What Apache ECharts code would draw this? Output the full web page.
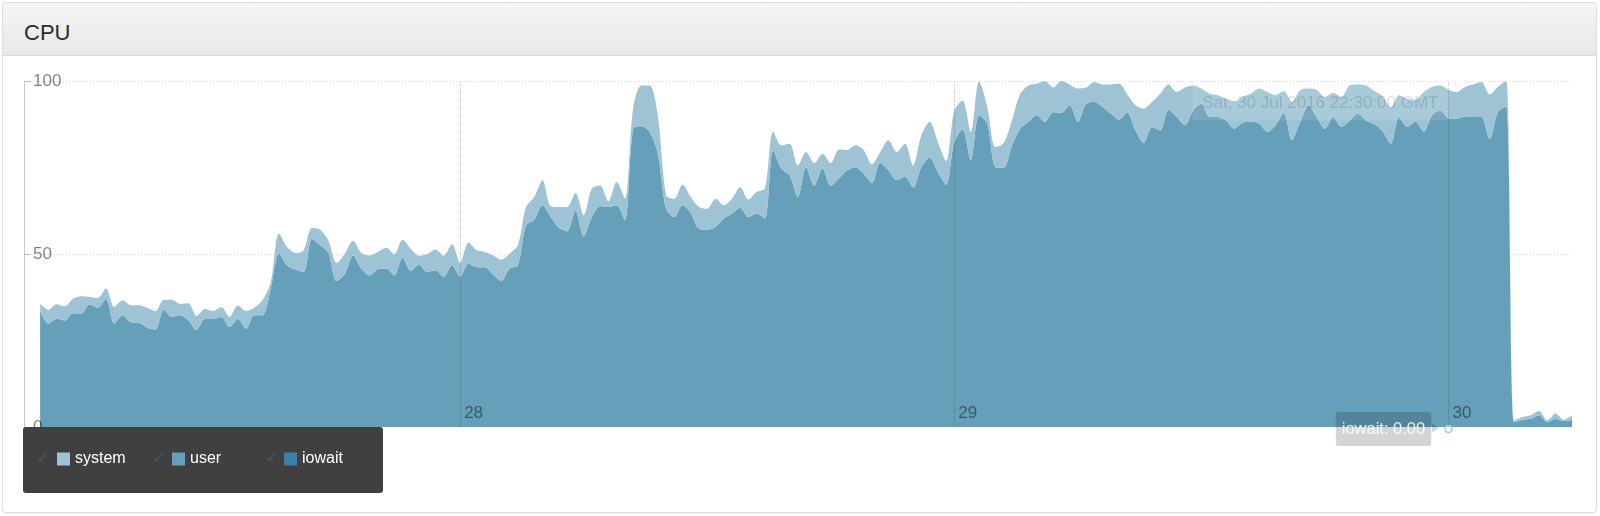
<!DOCTYPE html>
<html>
<head>
<meta charset="utf-8">
<title>CPU</title>
<script src="https://cdn.jsdelivr.net/npm/echarts@6.0.0/dist/echarts.min.js"></script>
<style>
  html, body { margin: 0; padding: 0; background: #fff; }
  body { width: 1600px; height: 516px; position: relative; overflow: hidden; font-family: "Liberation Sans", Arial, sans-serif; }
  .panel {
    position: absolute; left: 2px; top: 2px; width: 1595px; height: 511px;
    box-sizing: border-box; border: 1px solid #dcdcdc; border-radius: 4px;
    box-shadow: 0 1px 1px rgba(0,0,0,0.05);
  }
  .panel-heading {
    height: 53px; box-sizing: border-box; border-bottom: 1px solid #dadada;
    border-radius: 3px 3px 0 0;
    background: linear-gradient(#f5f5f5, #e8e8e8);
  }
  .panel-title {
    position: absolute; left: 21px; top: 19px; font-size: 22px; line-height: 22px; color: #2b2b2b;
  }
  #cpu-chart { position: absolute; left: 0; top: 0; width: 1600px; height: 516px; }
</style>
</head>
<body>
<div class="panel"><div class="panel-heading"><span class="panel-title">CPU</span></div></div>
<div id="cpu-chart"></div>
<script>
// samples every 24 minutes, starting 27 Jul 03:36
const startTime = Date.UTC(2016, 6, 27, 3, 36);
const stepMs = 24 * 60 * 1000;

const userValues = [
  33.7, 29.9, 31.3, 30.8, 32.9, 32.8, 35.5, 34.5, 37.0, 29.9,
  32.3, 30.3, 30.1, 28.7, 28.2, 33.9, 31.8, 32.3, 30.8, 28.1,
  31.2, 31.2, 31.8, 28.9, 31.2, 28.4, 32.3, 32.3, 40.0, 50.1,
  46.7, 45.5, 44.8, 54.4, 52.5, 50.3, 42.2, 44.3, 49.6, 45.8,
  43.8, 45.6, 45.8, 43.8, 48.9, 45.1, 47.0, 44.8, 45.3, 43.4,
  46.7, 43.5, 47.2, 46.2, 46.2, 44.1, 42.2, 45.8, 46.7, 58.3,
  59.9, 64.1, 60.7, 57.6, 56.6, 62.6, 55.1, 60.7, 63.8, 63.6,
  64.1, 59.7, 86.2, 86.9, 85.3, 79.0, 63.1, 60.7, 64.1, 61.8,
  57.3, 57.0, 57.8, 60.2, 61.7, 63.4, 60.7, 61.7, 60.2, 80.0,
  74.7, 72.7, 66.5, 75.1, 69.8, 74.7, 69.7, 71.8, 74.2, 75.0,
  73.2, 70.5, 76.3, 74.2, 71.3, 72.3, 69.2, 75.1, 77.8, 73.7,
  70.0, 82.4, 86.0, 77.1, 90.1, 87.7, 75.1, 74.9, 81.4, 86.2,
  88.2, 90.1, 88.2, 91.0, 90.8, 93.0, 88.2, 93.4, 93.9, 92.5,
  90.6, 88.8, 90.8, 85.7, 82.1, 86.7, 85.7, 91.7, 89.6, 87.2,
  91.5, 93.4, 89.6, 89.6, 88.6, 86.2, 87.9, 88.2, 87.7, 85.3,
  87.2, 91.0, 82.9, 88.2, 93.0, 89.6, 86.2, 89.6, 86.7, 88.6,
  90.6, 88.6, 87.5, 85.5, 81.9, 89.6, 86.7, 88.2, 85.3, 90.1,
  91.5, 89.3, 89.1, 89.8, 89.6, 89.6, 83.3, 91.0, 92.7, 1.4,
  2.1, 2.4, 3.4, 1.4, 2.4, 1.7, 2.1
];

const systemValues = [
  1.9, 4.0, 4.2, 4.1, 4.2, 5.0, 2.1, 2.8, 3.0, 4.8,
  4.3, 4.9, 5.1, 5.8, 5.3, 2.9, 5.0, 3.3, 5.0, 4.0,
  2.9, 2.3, 2.9, 2.9, 3.9, 5.1, 2.2, 4.3, 1.8, 5.8,
  5.3, 4.8, 6.3, 3.1, 4.5, 3.6, 5.2, 5.8, 4.2, 4.5,
  5.8, 5.0, 6.0, 6.1, 5.2, 6.4, 2.5, 5.1, 6.0, 6.1,
  6.1, 3.9, 6.1, 4.9, 4.4, 5.5, 6.2, 4.3, 5.8, 5.3,
  6.6, 7.2, 3.1, 6.0, 7.0, 5.0, 6.1, 8.2, 6.0, 1.6,
  6.7, 6.3, 5.8, 11.8, 13.4, 11.1, 3.9, 5.3, 6.0, 4.7,
  6.3, 6.1, 8.2, 3.9, 4.3, 6.0, 5.0, 6.2, 8.7, 5.3,
  6.7, 9.2, 9.1, 4.4, 6.5, 4.3, 6.6, 8.4, 5.8, 6.4,
  6.8, 5.4, 3.2, 8.7, 8.2, 9.6, 6.4, 9.2, 10.4, 8.7,
  6.9, 9.1, 8.4, 8.2, 9.9, 4.8, 5.8, 7.2, 7.2, 10.1,
  10.5, 9.1, 11.8, 7.1, 9.2, 6.0, 9.6, 4.7, 5.8, 6.5,
  8.4, 10.4, 5.3, 7.3, 9.9, 7.2, 10.6, 7.3, 7.2, 10.9,
  7.2, 4.4, 6.7, 6.3, 6.3, 8.0, 7.5, 8.1, 10.1, 11.5,
  8.7, 6.1, 11.0, 9.1, 4.8, 7.9, 9.2, 6.9, 8.7, 10.1,
  8.4, 10.1, 9.6, 10.1, 10.4, 6.3, 8.2, 6.4, 11.5, 8.2,
  7.2, 8.2, 7.7, 8.5, 9.4, 10.1, 12.8, 7.3, 7.3, 0.5,
  0.8, 1.0, 1.2, 0.5, 1.5, 0.4, 1.3
];

const iowaitValues = [
  0, 0, 0, 0, 0, 0, 0, 0, 0, 0, 0, 0, 0, 0, 0, 0, 0, 0, 0, 0,
  0, 0, 0, 0, 0, 0, 0, 0, 0, 0, 0, 0, 0, 0, 0, 0, 0, 0, 0, 0,
  0, 0, 0, 0, 0, 0, 0, 0, 0, 0, 0, 0, 0, 0, 0, 0, 0, 0, 0, 0,
  0, 0, 0, 0, 0, 0, 0, 0, 0, 0, 0, 0, 0, 0, 0, 0, 0, 0, 0, 0,
  0, 0, 0, 0, 0, 0, 0, 0, 0, 0, 0, 0, 0, 0, 0, 0, 0, 0, 0, 0,
  0, 0, 0, 0, 0, 0, 0, 0, 0, 0, 0, 0, 0, 0, 0, 0, 0, 0, 0, 0,
  0, 0, 0, 0, 0, 0, 0, 0, 0, 0, 0, 0, 0, 0, 0, 0, 0, 0, 0, 0,
  0, 0, 0, 0, 0, 0, 0, 0, 0, 0, 0, 0, 0, 0, 0, 0, 0, 0, 0, 0,
  0, 0, 0, 0, 0, 0, 0, 0, 0, 0, 0, 0, 0, 0, 0, 0, 0, 0, 0, 0,
  0, 0, 0, 0, 0, 0, 0
];

const yTicks = [0, 50, 100];
const dayTicks = [
  { label: '28', time: Date.UTC(2016, 6, 28) },
  { label: '29', time: Date.UTC(2016, 6, 29) },
  { label: '30', time: Date.UTC(2016, 6, 30) }
];
const hoverIndex = 171;
const hoverTimeLabel = 'Sat, 30 Jul 2016 22:30:00 GMT';

const colors = { system: '#9dc3d4', user: '#659fba', iowait: '#3b7faa' };
const font = '"Liberation Sans", Arial, sans-serif';

const times = userValues.map((_, i) => startTime + i * stepMs);

var chart = echarts.init(document.getElementById('cpu-chart'));

function areaSeries(name, values) {
  return {
    name: name,
    type: 'line',
    stack: 'cpu',
    smooth: 0.3,
    symbol: 'none',
    silent: true,
    lineStyle: { width: 0 },
    itemStyle: { color: colors[name] },
    areaStyle: { color: colors[name], opacity: 1 },
    emphasis: { disabled: true },
    data: values.map((v, i) => [times[i], v])
  };
}

const iowait = areaSeries('iowait', iowaitValues);
const user = areaSeries('user', userValues);
const system = areaSeries('system', systemValues);

// day lines and their labels
system.markLine = {
  silent: true,
  symbol: 'none',
  label: { show: false },
  lineStyle: { color: 'rgba(0,0,0,0.22)', type: 'dotted', width: 1 },
  data: dayTicks.map(d => ({ xAxis: d.time }))
};
system.markPoint = {
  silent: true,
  symbol: 'circle',
  symbolSize: 0,
  data: dayTicks.map(d => ({
    coord: [d.time, 0],
    label: {
      show: true, formatter: d.label, position: 'right', distance: 4, offset: [0, -14],
      color: 'rgba(0,0,0,0.45)', fontSize: 17, fontFamily: font
    }
  })).concat([{
    // hover detail: time label
    coord: [times[hoverIndex], 100],
    label: {
      show: true, formatter: hoverTimeLabel, position: 'left', distance: 0, offset: [0, 22],
      color: 'rgba(0,0,0,0.13)', fontSize: 17, fontFamily: font, lineHeight: 17,
      backgroundColor: 'rgba(255,255,255,0.12)', padding: [9, 10, 9, 10]
    }
  }])
};

// hover detail: iowait dot and value box
iowait.markPoint = {
  silent: true,
  data: [
    {
      coord: [times[hoverIndex], iowaitValues[hoverIndex]],
      symbol: 'circle', symbolSize: 7, symbolOffset: [0, 2],
      itemStyle: { color: 'rgba(255,255,255,0.4)', borderColor: '#a6cadb', borderWidth: 1.5 },
      label: {
        show: true, formatter: 'iowait: ' + iowaitValues[hoverIndex].toFixed(2),
        position: 'left', distance: 13, offset: [0, 0],
        color: 'rgba(255,255,255,0.88)', fontSize: 16.5, fontFamily: font, lineHeight: 19,
        backgroundColor: 'rgba(0,0,0,0.17)', borderRadius: 3, padding: [8, 6, 7, 6]
      }
    },
    {
      coord: [times[hoverIndex], iowaitValues[hoverIndex]],
      symbol: 'triangle', symbolSize: [9, 7], symbolRotate: -90, symbolOffset: [-13, 1],
      itemStyle: { color: 'rgba(0,0,0,0.17)' },
      label: { show: false }
    }
  ]
};

var option = {
  animation: false,
  grid: { left: 24, right: 28, top: 81, bottom: 89 },
  xAxis: {
    type: 'time',
    min: startTime - 47 * 60 * 1000,
    max: times[times.length - 1],
    axisLine: { show: false },
    axisTick: { show: false },
    axisLabel: { show: false },
    splitLine: { show: false }
  },
  yAxis: {
    type: 'value',
    min: yTicks[0],
    max: yTicks[yTicks.length - 1],
    interval: yTicks[1] - yTicks[0],
    z: 3,
    axisLine: { show: true, lineStyle: { color: '#c8c8c8', width: 1 } },
    axisTick: { show: true, inside: true, length: 6, lineStyle: { color: '#b8b8b8' } },
    axisLabel: {
      inside: true, margin: 9, color: 'rgba(0,0,0,0.5)', fontSize: 17, fontFamily: font,
      showMinLabel: true, showMaxLabel: true
    },
    splitLine: { show: true, showMinLine: false, lineStyle: { color: 'rgba(0,0,0,0.15)', type: [1, 2] } }
  },
  legend: {
    left: 23,
    top: 427,
    z: 10,
    orient: 'horizontal',
    backgroundColor: '#404040',
    borderRadius: 3,
    padding: [24, 33, 26, 34],
    itemWidth: 13,
    itemHeight: 13,
    itemGap: 20,
    icon: 'rect',
    selectedMode: false,
    textStyle: { color: '#fff', fontSize: 16, fontFamily: font, lineHeight: 14 },
    data: [
      { name: 'system', textStyle: { width: 77 } },
      { name: 'user', textStyle: { width: 74 } },
      { name: 'iowait', textStyle: { width: 48 } }
    ]
  },
  graphic: [36, 152, 265].map(x => ({
    type: 'text', left: x, top: 450, z: 20, silent: true,
    style: { text: '\u2713', fill: '#3d5a74', font: '17px "DejaVu Sans"' }
  })),
  series: [iowait, user, system]
};

option && chart.setOption(option);
</script>
</body>
</html>
